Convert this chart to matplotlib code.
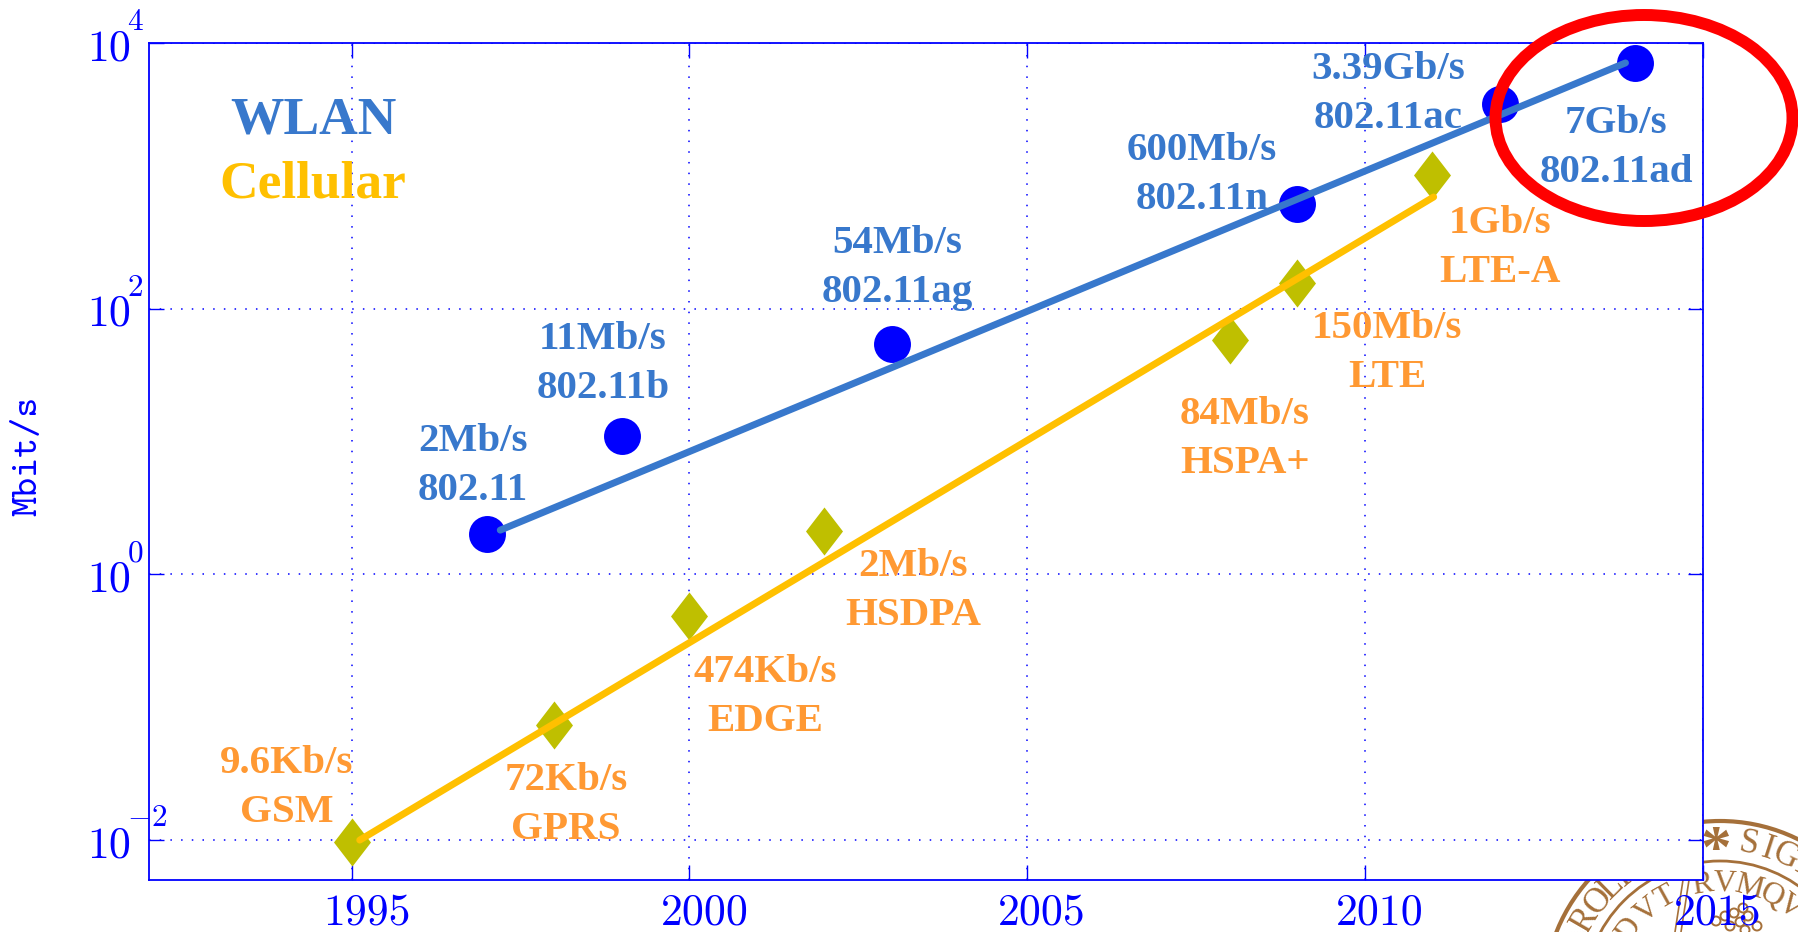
import numpy as np
import matplotlib
matplotlib.use("Agg")
import matplotlib.pyplot as plt
from matplotlib.patches import Ellipse, Circle
from matplotlib.path import Path
from matplotlib.lines import Line2D
from matplotlib.transforms import Affine2D, ScaledTranslation

# ---- data ----
wlan_years = [1997, 1999, 2003, 2009, 2012, 2014]
wlan_rates = [2, 11, 54, 610, 3450, 7080]
wlan_labels = ["2Mb/s\n802.11", "11Mb/s\n802.11b", "54Mb/s\n802.11ag",
               "600Mb/s\n802.11n", "3.39Gb/s\n802.11ac", "7Gb/s\n802.11ad"]
cell_years = [1995, 1998, 2000, 2002, 2008, 2009, 2011]
cell_rates = [0.0096, 0.073, 0.48, 2.1, 58, 155, 1010]
cell_labels = ["9.6Kb/s\nGSM", "72Kb/s\nGPRS", "474Kb/s\nEDGE", "2Mb/s\nHSDPA",
               "84Mb/s\nHSPA+", "150Mb/s\nLTE", "1Gb/s\nLTE-A"]
wlan_fit_x = [1997.2, 2013.86]
wlan_fit_y = [2.14, 7080]
cell_fit_x = [1995.12, 2011.02]
cell_fit_y = [0.0099, 692]
x_ticks = [1995, 2000, 2005, 2010, 2015]
y_ticks = [0.01, 1, 100, 10000]
y_exponents = ["-2", "0", "2", "4"]

# label centres in reference pixels (centre x, centre y of the two-line block)
wlan_pos = [(473, 466), (603, 364), (897, 268), (1202, 175), (1388, 94), (1616, 148)]
cell_pos = [(287, 788), (566, 805), (765, 697), (913, 591), (1245, 439), (1387, 353), (1500, 248)]

# decorative seal at the lower right corner (letters with clockwise angle from top)
seal_outer = [("A", -68), ("R", -60), ("O", -51.5), ("L", -44.5), ("I", -39),
              ("S", 10.5), ("I", 18), ("G", 25), ("I", 32)]
seal_inner = [("D", -54), ("V", -40), ("T", -29), ("R", -9), ("V", 2.5),
              ("M", 15), ("Q", 27), ("V", 37.6)]
seal_rings = [176, 136]
seal_dots = [(1716, 921), (1725, 916), (1734, 913), (1743, 908), (1748, 916),
             (1740, 922), (1730, 926), (1745, 930), (1757, 926)]

BLUE = "#0000FF"
TEXT_BLUE = "#3878CC"
ORANGE = "#FF9933"
BROWN = "#A5703A"
W, H = 1799, 932
plt.rcParams["mathtext.fontset"] = "cm"
fig = plt.figure(figsize=(W / 100, H / 100), dpi=100)
L, R, T, B = 149, 1702.5, 43, 880
ax = fig.add_axes([L / W, 1 - B / H, (R - L) / W, (B - T) / H])
ax.set_yscale("log")
ax.set_xlim(1992, 2015)
ax.set_ylim(10 ** (-2 - 40.5 / 132.75), 1e4)
ax.set_xticks(x_ticks)
ax.set_xticklabels([str(v) for v in x_ticks], family="cmr10", fontsize=31.5, color=BLUE)
ax.set_yticks(y_ticks)
ax.set_yticklabels(["10"] * len(y_ticks), family="cmr10", fontsize=31.5, color=BLUE)
ax.minorticks_off()
ax.tick_params(axis="both", which="major", direction="in", length=10.8, width=1.0, color=BLUE)
ax.tick_params(axis="x", top=True, pad=10)
ax.tick_params(axis="y", right=True, pad=44.6)
shift = ScaledTranslation(15 / 100, 0, fig.dpi_scale_trans)
for lab in ax.get_xticklabels():
    lab.set_transform(lab.get_transform() + shift)
down = ScaledTranslation(0, -17.5 / 100, fig.dpi_scale_trans)
for lab in ax.get_yticklabels():
    lab.set_ha("left")
    lab.set_va("baseline")
    lab.set_transform(lab.get_transform() + down)
for v, e in zip(y_ticks, y_exponents):
    ax.annotate(f"${e}$", xy=(0, v), xycoords=("axes fraction", "data"),
                xytext=(127 - L, 13), textcoords="offset pixels", fontsize=22.5,
                color=BLUE, ha="left", va="baseline", annotation_clip=False, zorder=5)
ax.grid(True, which="major", color=BLUE, linestyle=(0, (1, 6)), linewidth=1.1)
ax.set_axisbelow(True)
for s in ax.spines.values():
    s.set_color(BLUE)
    s.set_linewidth(1.3)
ax.set_ylabel("Mbit/s", family="cmtt10", fontsize=27.5, color=BLUE)
ax.yaxis.set_label_coords((45 - L) / (R - L), 0.507)

diamond = Path([[0, 1], [0.77, 0], [0, -1], [-0.77, 0], [0, 1]], closed=True)
ax.plot(wlan_years, wlan_rates, ls="none", marker="o", ms=26.6, mfc=BLUE, mec="none", zorder=3, clip_on=False)
ax.plot(cell_years, cell_rates, ls="none", marker=diamond, ms=34.6, mfc="#BFBF00", mec="none", zorder=3, clip_on=False)

ax.plot(wlan_fit_x, wlan_fit_y, color=TEXT_BLUE, lw=5, solid_capstyle="round", zorder=4)
ax.plot(cell_fit_x, cell_fit_y, color="#FFC000", lw=5, solid_capstyle="round", zorder=4)

def px(x, y):
    return x / W, 1 - y / H

serif = ["Liberation Serif"]
for s, (x, y) in zip(wlan_labels, wlan_pos):
    fig.text(*px(x, y), s, color=TEXT_BLUE, family=serif, weight="bold", fontsize=29.5,
             ha="center", va="center", linespacing=1.45, zorder=6)
for s, (x, y) in zip(cell_labels, cell_pos):
    fig.text(*px(x, y), s, color=ORANGE, family=serif, weight="bold", fontsize=29.5,
             ha="center", va="center", linespacing=1.45, zorder=6)
fig.text(*px(313, 121), "WLAN", color=TEXT_BLUE, family=serif, weight="bold", fontsize=38.5, ha="center", va="center", zorder=6)
fig.text(*px(313, 185), "Cellular", color="#FFC000", family=serif, weight="bold", fontsize=38.5, ha="center", va="center", zorder=6)

# figure-pixel space with the origin at the top-left corner
pix = Affine2D().scale(1, -1).translate(0, H)
fig.add_artist(Ellipse((1644, 118), 297, 206, fc="none", ec="#FF0000", lw=8.6, transform=pix, zorder=7))

# seal behind the axes
cx, cy = 1720, 997
for r, lw in zip(seal_rings, [3.0, 2.0]):
    fig.add_artist(Circle((cx, cy), r, fc="none", ec=BROWN, lw=lw, transform=pix, zorder=-1))
def ring_text(letters, radius, size):
    for ch, a in letters:
        t = np.radians(a)
        fig.text(cx + radius * np.sin(t), cy - radius * np.cos(t), ch, transform=pix,
                 color=BROWN, family=serif, fontsize=size, rotation=-a,
                 rotation_mode="anchor", ha="center", va="center", zorder=-1)
ring_text(seal_outer, 155, 25)
ring_text(seal_inner, 113, 23)
fig.text(1716, 852, "*", transform=pix, color=BROWN, family=serif, weight="bold", fontsize=44,
         ha="center", va="center", zorder=-1)
for x0, x1 in [(1683, 1675), (1689, 1681)]:
    fig.add_artist(Line2D([x0, x1], [880, 932], color=BROWN, lw=1.2, transform=pix, zorder=-1))
for x, y in seal_dots:
    fig.add_artist(Circle((x, y), 4.5, fc="none", ec=BROWN, lw=1.4, transform=pix, zorder=-1))

fig.savefig("out.png", dpi=100)
